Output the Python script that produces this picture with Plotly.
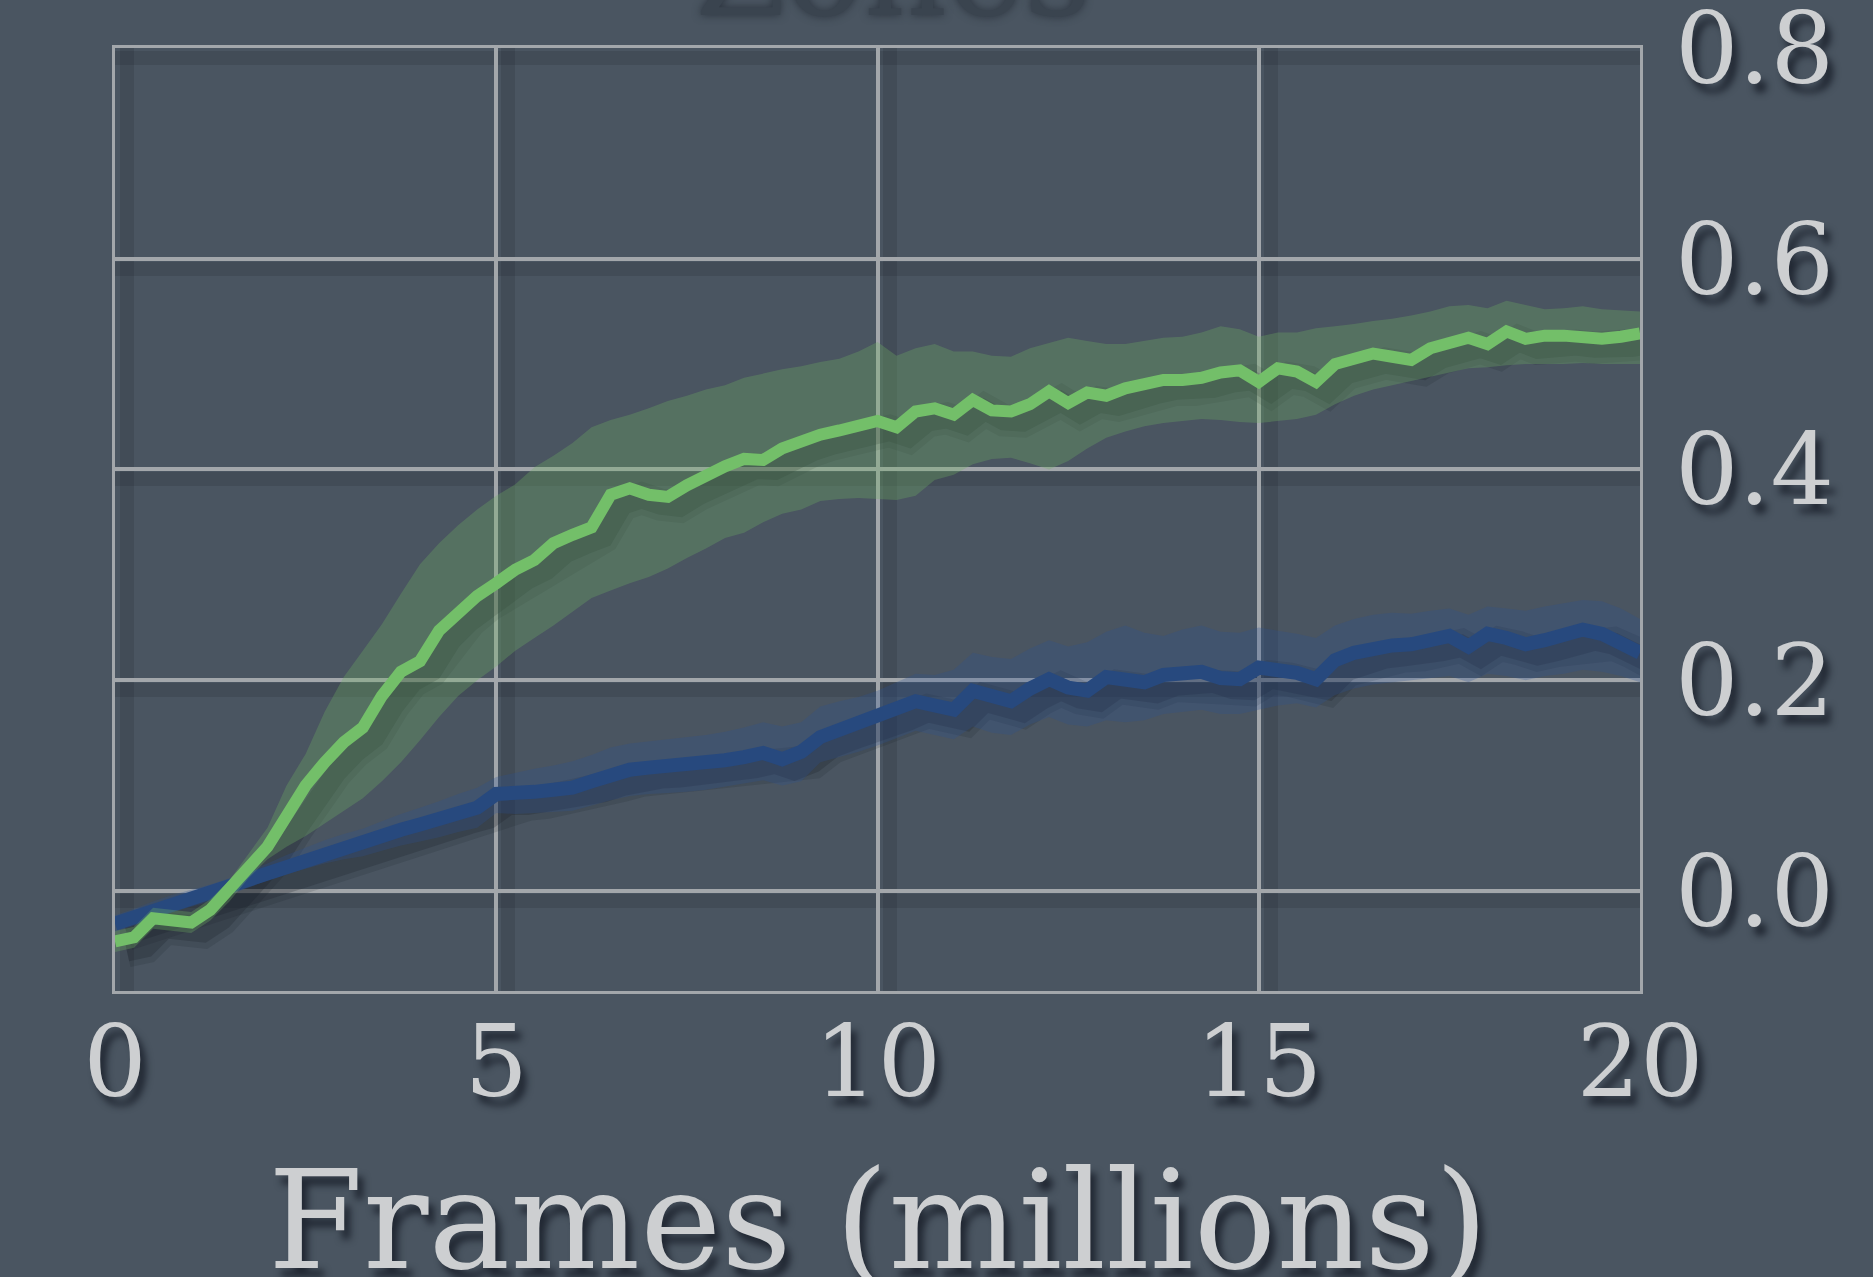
import plotly.graph_objects as go

# Training progress: mean return with spread across seeds, two agents
FRAMES_M = [
    0.0, 0.25, 0.5, 0.75, 1.0, 1.25, 1.5, 1.75, 2.0, 2.25, 2.5, 2.75,
    3.0, 3.25, 3.5, 3.75, 4.0, 4.25, 4.5, 4.75, 5.0, 5.25, 5.5, 5.75,
    6.0, 6.25, 6.5, 6.75, 7.0, 7.25, 7.5, 7.75, 8.0, 8.25, 8.5, 8.75,
    9.0, 9.25, 9.5, 9.75, 10.0, 10.25, 10.5, 10.75, 11.0, 11.25, 11.5, 11.75,
    12.0, 12.25, 12.5, 12.75, 13.0, 13.25, 13.5, 13.75, 14.0, 14.25, 14.5, 14.75,
    15.0, 15.25, 15.5, 15.75, 16.0, 16.25, 16.5, 16.75, 17.0, 17.25, 17.5, 17.75,
    18.0, 18.25, 18.5, 18.75, 19.0, 19.25, 19.5, 19.75, 20.0,
]

GREEN_MEAN = [
    -0.048, -0.044, -0.026, -0.028,
    -0.030, -0.018, 0.000, 0.022,
    0.042, 0.070, 0.100, 0.122,
    0.141, 0.155, 0.185, 0.208,
    0.218, 0.247, 0.265, 0.280,
    0.292, 0.305, 0.314, 0.330,
    0.338, 0.345, 0.376, 0.382,
    0.376, 0.374, 0.385, 0.395,
    0.403, 0.410, 0.409, 0.420,
    0.427, 0.433, 0.437, 0.441,
    0.446, 0.440, 0.455, 0.458,
    0.452, 0.466, 0.456, 0.455,
    0.462, 0.474, 0.463, 0.473,
    0.470, 0.477, 0.481, 0.485,
    0.485, 0.487, 0.492, 0.494,
    0.483, 0.496, 0.493, 0.483,
    0.500, 0.506, 0.510, 0.507,
    0.504, 0.515, 0.520, 0.525,
    0.519, 0.531, 0.524, 0.527,
    0.527, 0.525, 0.524, 0.526,
    0.529,
]

GREEN_UPPER = [
    -0.038, -0.034, -0.016, -0.018,
    -0.020, -0.008, 0.010, 0.035,
    0.060, 0.100, 0.130, 0.170,
    0.203, 0.228, 0.253, 0.282,
    0.310, 0.330, 0.347, 0.362,
    0.375, 0.386, 0.402, 0.413,
    0.425, 0.440, 0.447, 0.452,
    0.458, 0.465, 0.470, 0.476,
    0.480, 0.487, 0.491, 0.495,
    0.498, 0.502, 0.505, 0.512,
    0.521, 0.508, 0.515, 0.519,
    0.512, 0.512, 0.508, 0.507,
    0.515, 0.520, 0.525, 0.522,
    0.519, 0.519, 0.522, 0.525,
    0.526, 0.530, 0.536, 0.533,
    0.526, 0.530, 0.530, 0.534,
    0.536, 0.538, 0.541, 0.543,
    0.546, 0.550, 0.555, 0.556,
    0.553, 0.560, 0.556, 0.552,
    0.553, 0.555, 0.552, 0.551,
    0.550,
]

GREEN_LOWER = [
    -0.058, -0.054, -0.036, -0.038,
    -0.040, -0.028, -0.010, 0.012,
    0.030, 0.042, 0.052, 0.064,
    0.076, 0.088, 0.104, 0.122,
    0.143, 0.165, 0.185, 0.200,
    0.213, 0.228, 0.240, 0.252,
    0.265, 0.278, 0.285, 0.292,
    0.298, 0.306, 0.316, 0.325,
    0.335, 0.340, 0.350, 0.358,
    0.362, 0.370, 0.372, 0.373,
    0.372, 0.371, 0.375, 0.390,
    0.395, 0.405, 0.410, 0.411,
    0.406, 0.400, 0.408, 0.420,
    0.430, 0.436, 0.441, 0.444,
    0.446, 0.448, 0.447, 0.445,
    0.444, 0.446, 0.448, 0.452,
    0.462, 0.470, 0.476, 0.480,
    0.484, 0.488, 0.492, 0.496,
    0.497, 0.499, 0.500, 0.500,
    0.500, 0.501, 0.500, 0.500,
    0.500,
]

BLUE_MEAN = [
    -0.031, -0.025, -0.018, -0.012,
    -0.007, -0.002, 0.004, 0.011,
    0.018, 0.025, 0.031, 0.037,
    0.042, 0.046, 0.052, 0.058,
    0.063, 0.068, 0.074, 0.079,
    0.092, 0.092, 0.094, 0.096,
    0.098, 0.104, 0.110, 0.115,
    0.117, 0.118, 0.119, 0.121,
    0.124, 0.127, 0.131, 0.125,
    0.132, 0.146, 0.153, 0.158,
    0.164, 0.172, 0.180, 0.176,
    0.172, 0.190, 0.184, 0.180,
    0.192, 0.201, 0.193, 0.190,
    0.203, 0.200, 0.198, 0.205,
    0.206, 0.208, 0.202, 0.201,
    0.212, 0.210, 0.207, 0.201,
    0.219, 0.226, 0.231, 0.233,
    0.234, 0.238, 0.242, 0.232,
    0.244, 0.240, 0.234, 0.238,
    0.242, 0.248, 0.244, 0.236,
    0.226,
]

BLUE_UPPER = [
    -0.023, -0.017, -0.010, -0.004,
    0.001, 0.006, 0.012, 0.019,
    0.026, 0.034, 0.041, 0.048,
    0.054, 0.059, 0.066, 0.073,
    0.079, 0.085, 0.092, 0.098,
    0.108, 0.112, 0.116, 0.119,
    0.123, 0.129, 0.136, 0.140,
    0.142, 0.144, 0.146, 0.148,
    0.151, 0.155, 0.160, 0.156,
    0.160, 0.175, 0.180, 0.184,
    0.190, 0.198, 0.206, 0.205,
    0.210, 0.226, 0.222, 0.220,
    0.230, 0.238, 0.232, 0.236,
    0.246, 0.252, 0.245, 0.242,
    0.248, 0.252, 0.246, 0.245,
    0.250, 0.247, 0.244, 0.240,
    0.252, 0.258, 0.262, 0.264,
    0.263, 0.266, 0.268, 0.262,
    0.270, 0.268, 0.266, 0.270,
    0.273, 0.276, 0.275, 0.268,
    0.258,
]

BLUE_LOWER = [
    -0.039, -0.033, -0.026, -0.020,
    -0.015, -0.010, -0.004, 0.003,
    0.010, 0.016, 0.021, 0.026,
    0.030, 0.033, 0.038, 0.043,
    0.047, 0.051, 0.056, 0.060,
    0.074, 0.073, 0.074, 0.075,
    0.076, 0.081, 0.086, 0.090,
    0.092, 0.093, 0.094, 0.096,
    0.099, 0.102, 0.105, 0.100,
    0.104, 0.122, 0.127, 0.132,
    0.138, 0.145, 0.152, 0.148,
    0.144, 0.156, 0.150, 0.148,
    0.158, 0.165, 0.158, 0.156,
    0.162, 0.160, 0.162, 0.168,
    0.170, 0.172, 0.168, 0.168,
    0.172, 0.176, 0.178, 0.174,
    0.186, 0.192, 0.196, 0.198,
    0.200, 0.202, 0.204, 0.198,
    0.206, 0.204, 0.200, 0.204,
    0.206, 0.210, 0.208, 0.204,
    0.198,
]

X_TICKS = [0, 5, 10, 15, 20]
X_TICK_TEXT = ["0", "5", "10", "15", "20"]
Y_TICKS = [0.0, 0.2, 0.4, 0.6, 0.8]
Y_TICK_TEXT = ["0.0", "0.2", "0.4", "0.6", "0.8"]
TITLE = "Zones"
X_TITLE = "Frames (millions)"

# styling
W, H = 1873, 1277
M_L, M_R, M_T, M_B = 115, 233, 48, 286
X_RANGE = [0, 20]
Y_RANGE = [-0.095, 0.8]
BG = "#4a5561"
GRID = "#a3a7ab"
TEXT = "#cdcfd1"
GREEN = "#73bf69"
GREEN_FILL = "rgba(112,180,98,0.30)"
BLUE = "#27497e"
BLUE_FILL = "rgba(44,82,150,0.26)"
GRID_SHADOW = "rgba(22,28,38,0.16)"
SERIF = "DejaVu Serif"
TEXT_SHADOW = "6px 9px 7px rgba(20,26,36,0.75)"

# drop-shadow offset, pixels right / down
SH_DX, SH_DY = 12, 10
plot_w = W - M_L - M_R
plot_h = H - M_T - M_B
dx = SH_DX * (X_RANGE[1] - X_RANGE[0]) / plot_w
dy = SH_DY * (Y_RANGE[1] - Y_RANGE[0]) / plot_h

fig = go.Figure()

# shadows of the two mean curves, drawn on a slightly shifted copy of the axes
for ys, wdt in ((BLUE_MEAN, 22), (GREEN_MEAN, 20)):
    fig.add_trace(go.Scatter(
        x=FRAMES_M, y=ys, mode="lines", xaxis="x", yaxis="y",
        line=dict(color="rgba(22,28,38,0.14)", width=wdt + 12),
        hoverinfo="skip", showlegend=False))
    fig.add_trace(go.Scatter(
        x=FRAMES_M, y=ys, mode="lines", xaxis="x", yaxis="y",
        line=dict(color="rgba(22,28,38,0.22)", width=wdt),
        hoverinfo="skip", showlegend=False))

# blue agent: spread band then mean
fig.add_trace(go.Scatter(
    x=FRAMES_M, y=BLUE_LOWER, mode="lines", xaxis="x2", yaxis="y2",
    line=dict(width=0, color=BLUE), hoverinfo="skip", showlegend=False))
fig.add_trace(go.Scatter(
    x=FRAMES_M, y=BLUE_UPPER, mode="lines", xaxis="x2", yaxis="y2",
    fill="tonexty", fillcolor=BLUE_FILL,
    line=dict(width=0, color=BLUE), hoverinfo="skip", showlegend=False))
fig.add_trace(go.Scatter(
    x=FRAMES_M, y=BLUE_MEAN, mode="lines", xaxis="x2", yaxis="y2",
    line=dict(color=BLUE, width=14), showlegend=False))

# green agent: spread band then mean
fig.add_trace(go.Scatter(
    x=FRAMES_M, y=GREEN_LOWER, mode="lines", xaxis="x2", yaxis="y2",
    line=dict(width=0, color=GREEN), hoverinfo="skip", showlegend=False))
fig.add_trace(go.Scatter(
    x=FRAMES_M, y=GREEN_UPPER, mode="lines", xaxis="x2", yaxis="y2",
    fill="tonexty", fillcolor=GREEN_FILL,
    line=dict(width=0, color=GREEN), hoverinfo="skip", showlegend=False))
fig.add_trace(go.Scatter(
    x=FRAMES_M, y=GREEN_MEAN, mode="lines", xaxis="x2", yaxis="y2",
    line=dict(color=GREEN, width=12), showlegend=False))

tick_font = dict(family=SERIF, size=100, color=TEXT, shadow=TEXT_SHADOW)

fig.update_layout(
    width=W, height=H,
    margin=dict(l=M_L, r=M_R, t=M_T, b=M_B, pad=0, autoexpand=False),
    paper_bgcolor=BG, plot_bgcolor=BG,
    showlegend=False,
    # shifted axes carrying the shadow grid and curve shadows
    xaxis=dict(range=[X_RANGE[0] - dx, X_RANGE[1] - dx],
               tickvals=X_TICKS[:-1], showticklabels=False, ticks="",
               showgrid=True, gridcolor=GRID_SHADOW, gridwidth=14,
               zeroline=False, showline=False, fixedrange=True,
               automargin=False),
    yaxis=dict(range=[Y_RANGE[0] + dy, Y_RANGE[1] + dy],
               tickvals=Y_TICKS, showticklabels=False, ticks="",
               showgrid=True, gridcolor=GRID_SHADOW, gridwidth=14,
               zeroline=False, showline=False, fixedrange=True,
               automargin=False),
    # visible axes
    xaxis2=dict(overlaying="x", side="bottom", range=X_RANGE,
                tickvals=X_TICKS, ticktext=X_TICK_TEXT, ticks="",
                ticklabelstandoff=-18, ticklabeloverflow="allow",
                tickfont=tick_font, automargin=False,
                showgrid=True, gridcolor=GRID, gridwidth=4,
                zeroline=False, showline=True, mirror=True,
                linecolor=GRID, linewidth=3, fixedrange=True),
    yaxis2=dict(overlaying="y", side="right", range=Y_RANGE,
                tickvals=Y_TICKS, ticktext=Y_TICK_TEXT, ticks="",
                ticklabelstandoff=12, ticklabeloverflow="allow",
                tickfont=tick_font, automargin=False,
                showgrid=True, gridcolor=GRID, gridwidth=4,
                zeroline=False, showline=True, mirror=True,
                linecolor=GRID, linewidth=3, fixedrange=True),
    annotations=[
        dict(text=X_TITLE, xref="paper", yref="paper", x=0.5, y=-0.243,
             xanchor="center", yanchor="middle", showarrow=False,
             font=dict(family=SERIF, size=137, color=TEXT, shadow=TEXT_SHADOW)),
        dict(text=TITLE, xref="paper", yref="paper", x=0.51, y=1.083,
             xanchor="center", yanchor="middle", showarrow=False,
             font=dict(family=SERIF, size=130, color="#3a444f",
                       shadow="0px 0px 8px rgba(40,48,58,0.9)")),
    ],
)

fig.write_html("out.html")
